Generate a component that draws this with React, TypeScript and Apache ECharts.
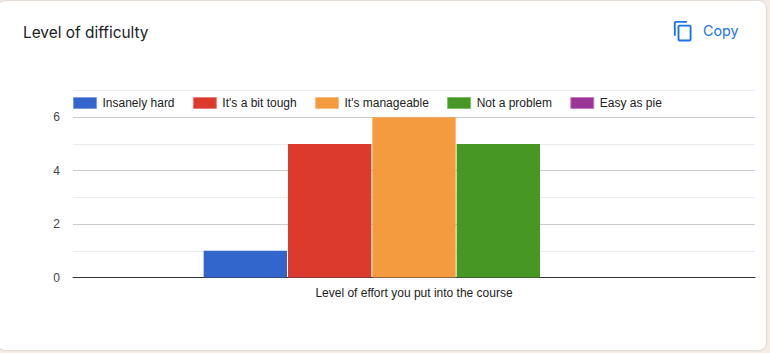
import React, { useEffect, useRef } from "react";
import * as echarts from "echarts";

const categories = ["Level of effort you put into the course"];
const seriesNames = ["Insanely hard", "It's a bit tough", "It's manageable", "Not a problem", "Easy as pie"];
const insanelyHard = [1];
const bitTough = [5];
const manageable = [6];
const notProblem = [5];
const easyAsPie = [0];
const seriesValues = [insanelyHard, bitTough, manageable, notProblem, easyAsPie];
const colors = ["#3266cc", "#dd3a2e", "#f59b3f", "#479724", "#9b3598"];
const legendBorders = ["#7d9de0", "#ea7f77", "#f9bd80", "#7fbe68", "#c37cc1"];

const COPY_ICON = "M16 1H4c-1.1 0-2 .9-2 2v14h2V3h12V1zm3 4H8c-1.1 0-2 .9-2 2v14c0 1.1.9 2 2 2h11c1.1 0 2-.9 2-2V7c0-1.1-.9-2-2-2zm0 16H8V7h11v14z";
echarts.graphic.registerShape("copyIcon", echarts.graphic.extendPath(COPY_ICON, {}));

export default function App() {
  const ref = useRef<HTMLDivElement>(null);
  useEffect(() => {
    const chart = echarts.init(ref.current!, undefined, { renderer: "svg" });
    chart.setOption({
      animation: false,
      backgroundColor: "transparent",
      textStyle: { fontFamily: "'Liberation Sans', Arial, sans-serif" },
      grid: { left: 73, width: 682, top: 90.5, height: 187, containLabel: false },
      legend: {
        left: 73,
        top: 97,
        padding: 0,
        itemWidth: 23,
        itemHeight: 11,
        itemGap: 18.3,
        icon: "rect",
        textStyle: { color: "#222222", fontSize: 12, padding: [0, 0, 0, 1] },
        data: seriesNames.map((name, i) => ({
          name,
          itemStyle: { borderColor: legendBorders[i], borderWidth: 1 },
        })),
      },
      xAxis: {
        type: "category",
        data: categories,
        axisLine: { lineStyle: { color: "#333333", width: 1 } },
        axisTick: { show: false },
        axisLabel: { color: "#222222", fontSize: 12, margin: 9 },
      },
      yAxis: {
        type: "value",
        min: 0,
        max: 7,
        interval: 1,
        axisLine: { show: false },
        axisTick: { show: false },
        splitLine: { lineStyle: { color: ["#cccccc", "#ebebeb"], width: 1 } },
        axisLabel: {
          color: "#444444",
          fontSize: 12,
          margin: 13,
          formatter: (v: number) => (v % 2 === 0 ? String(v) : ""),
        },
      },
      series: seriesNames.map((name, i) => ({
        name,
        type: "bar",
        data: seriesValues[i],
        barWidth: 83.33,
        barGap: "1.2%",
        itemStyle: { color: colors[i] },
      })),
      graphic: [
        {
          type: "text",
          left: 23,
          top: 25,
          style: { text: "Level of difficulty", fontFamily: "Inter", fontSize: 15.4, fill: "#202124" },
        },
        {
          type: "copyIcon",
          x: 672,
          y: 20,
          scaleX: 0.93,
          scaleY: 0.93,
          style: { fill: "#1a73e8" },
        },
        {
          type: "text",
          left: 703,
          top: 23,
          style: { text: "Copy", fontFamily: "Inter", fontSize: 14.3, fill: "#1a73e8" },
        },
      ],
    });
    return () => chart.dispose();
  }, []);
  return (
    <div style={{ position: "fixed", left: 0, top: 0, width: 770, height: 353, background: "#f4ece7", overflow: "hidden" }}>
      <div
        style={{
          position: "absolute",
          left: -2,
          top: 1,
          width: 768,
          height: 349,
          background: "#ffffff",
          borderRadius: 7,
          boxShadow: "0 0 2px rgba(0,0,0,0.25)",
        }}
      />
      <div ref={ref} style={{ position: "absolute", left: 0, top: 0, width: 770, height: 353 }} />
    </div>
  );
}
